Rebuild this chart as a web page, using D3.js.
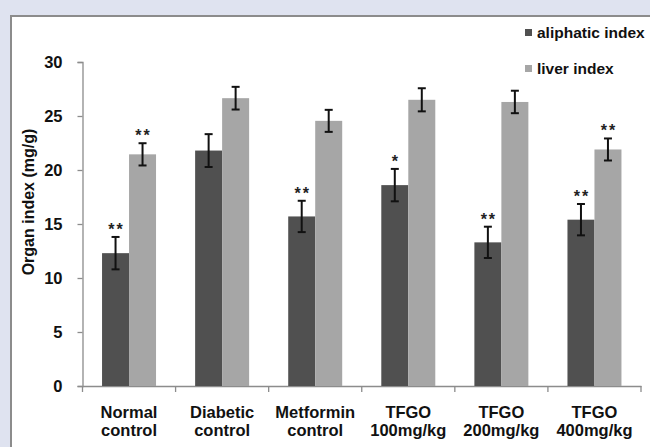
<!DOCTYPE html>
<html>
<head>
<meta charset="utf-8">
<script src="https://cdn.jsdelivr.net/npm/d3@7"></script>
<style>
  body { margin: 0; background: #dfe3f0; }
  svg { display: block; font-family: "Liberation Sans", Arial, sans-serif; }
</style>
</head>
<body>
<div id="plot"></div>
<script>
var width = 650, height = 447

// data
var groups = [
  ["Normal", "control"], ["Diabetic", "control"], ["Metformin", "control"],
  ["TFGO", "100mg/kg"], ["TFGO", "200mg/kg"], ["TFGO", "400mg/kg"]
]
var seriesNames = ["aliphatic index", "liver index"]
var aliphatic = [12.3, 21.8, 15.7, 18.6, 13.3, 15.4]
var aliphaticErr = [1.5, 1.52, 1.45, 1.5, 1.45, 1.45]
var aliphaticSig = ["**", "", "**", "*", "**", "**"]
var liver = [21.45, 26.65, 24.55, 26.5, 26.3, 21.9]
var liverErr = [1.03, 1.05, 1.02, 1.07, 1.04, 1.02]
var liverSig = ["**", "", "", "", "", "**"]
var yTicks = [0, 5, 10, 15, 20, 25, 30]

var colors = { "aliphatic index": "#505050", "liver index": "#a6a6a6" }

var rows = groups.map((g, i) => [
  { s: "aliphatic index", g: i, v: aliphatic[i], e: aliphaticErr[i], sig: aliphaticSig[i] },
  { s: "liver index", g: i, v: liver[i], e: liverErr[i], sig: liverSig[i] }
])

var svg = d3.select("#plot")
  .append("svg")
  .attr("width", width)
  .attr("height", height)

// white panel with grey frame
svg.append("rect")
  .attr("x", 11).attr("y", 16)
  .attr("width", width + 20).attr("height", height + 20)
  .attr("fill", "#fff")
  .attr("stroke", "#8c8c8c")
  .attr("stroke-width", 2)

var plotLeft = 82.5, plotRight = 641, plotTop = 62, plotBottom = 386

var x0 = d3.scaleBand()
  .domain(d3.range(groups.length))
  .range([plotLeft, plotRight])
  .paddingInner(0.42)
  .paddingOuter(0.21)

var x1 = d3.scaleBand()
  .domain(seriesNames)
  .range([0, x0.bandwidth()])

var y = d3.scaleLinear()
  .domain([0, 30])
  .range([plotBottom, plotTop])

// y axis
var yAxis = svg.append("g")
  .attr("transform", "translate(" + plotLeft + ",0)")
  .call(d3.axisLeft(y).tickValues(yTicks).tickSize(5).tickSizeOuter(5).tickPadding(15))
yAxis.select(".domain").attr("stroke", "#8c8c8c").attr("stroke-width", 1.3)
yAxis.selectAll(".tick line").attr("stroke", "#8c8c8c").attr("stroke-width", 1.3)
yAxis.selectAll(".tick text")
  .attr("fill", "#111")
  .style("font-size", "16.5px")
  .style("font-weight", "bold")

// x axis
var xAxis = svg.append("g")
  .attr("transform", "translate(0," + plotBottom + ")")
  .call(d3.axisBottom(x0).tickSize(0).tickSizeOuter(0).tickFormat(""))
xAxis.select(".domain").attr("stroke", "#8c8c8c").attr("stroke-width", 1.3)

var step = x0.step()
xAxis.selectAll("line.bound")
  .data(d3.range(groups.length + 1))
  .enter()
  .append("line")
  .attr("class", "bound")
  .attr("x1", i => plotLeft + i * step)
  .attr("x2", i => plotLeft + i * step)
  .attr("y1", 0).attr("y2", 6)
  .attr("stroke", "#8c8c8c")
  .attr("stroke-width", 1.3)

var labels = svg.append("g")
  .selectAll("text")
  .data(groups)
  .enter()
  .append("text")
  .attr("text-anchor", "middle")
  .attr("fill", "#111")
  .style("font-size", "16.5px")
  .style("font-weight", "bold")

labels.append("tspan")
  .attr("x", (d, i) => x0(i) + x0.bandwidth() / 2)
  .attr("y", 418)
  .text(d => d[0])
labels.append("tspan")
  .attr("x", (d, i) => x0(i) + x0.bandwidth() / 2)
  .attr("y", 436)
  .text(d => d[1])

// bars
var grp = svg.append("g")
  .selectAll("g")
  .data(rows)
  .enter()
  .append("g")
  .attr("transform", (d, i) => "translate(" + x0(i) + ",0)")

grp.selectAll("rect")
  .data(d => d)
  .enter()
  .append("rect")
  .attr("x", d => x1(d.s))
  .attr("width", x1.bandwidth())
  .attr("y", d => y(d.v))
  .attr("height", d => y(0) - y(d.v))
  .attr("fill", d => colors[d.s])

// error bars
var cap = 4
var eb = grp.selectAll("g.err")
  .data(d => d)
  .enter()
  .append("g")
  .attr("class", "err")
  .attr("stroke", "#111")
  .attr("stroke-width", 2)

eb.append("line")
  .attr("x1", d => x1(d.s) + x1.bandwidth() / 2)
  .attr("x2", d => x1(d.s) + x1.bandwidth() / 2)
  .attr("y1", d => y(d.v + d.e))
  .attr("y2", d => y(d.v - d.e))
eb.append("line")
  .attr("x1", d => x1(d.s) + x1.bandwidth() / 2 - cap)
  .attr("x2", d => x1(d.s) + x1.bandwidth() / 2 + cap)
  .attr("y1", d => y(d.v + d.e))
  .attr("y2", d => y(d.v + d.e))
eb.append("line")
  .attr("x1", d => x1(d.s) + x1.bandwidth() / 2 - cap)
  .attr("x2", d => x1(d.s) + x1.bandwidth() / 2 + cap)
  .attr("y1", d => y(d.v - d.e))
  .attr("y2", d => y(d.v - d.e))

// significance stars
grp.selectAll("text.sig")
  .data(d => d.filter(r => r.sig))
  .enter()
  .append("text")
  .attr("class", "sig")
  .attr("x", d => x1(d.s) + x1.bandwidth() / 2 + 1)
  .attr("y", d => y(d.v + d.e) - 2)
  .attr("text-anchor", "middle")
  .attr("fill", "#222")
  .style("font-size", "16px")
  .style("font-weight", "bold")
  .style("letter-spacing", "2px")
  .text(d => d.sig)

// y axis title
svg.append("text")
  .attr("transform", "translate(34,202) rotate(-90)")
  .attr("text-anchor", "middle")
  .attr("fill", "#111")
  .style("font-size", "16px")
  .style("font-weight", "bold")
  .text("Organ index (mg/g)")

// legend
var legend = svg.append("g")
  .selectAll("g")
  .data(seriesNames)
  .enter()
  .append("g")
  .attr("transform", (d, i) => "translate(525," + (29 + i * 36) + ")")

legend.append("rect")
  .attr("width", 7).attr("height", 7)
  .attr("fill", d => colors[d])
legend.append("text")
  .attr("x", 12)
  .attr("y", 9)
  .attr("fill", "#111")
  .style("font-size", "15.5px")
  .style("font-weight", "bold")
  .text(d => d)
</script>
</body>
</html>
